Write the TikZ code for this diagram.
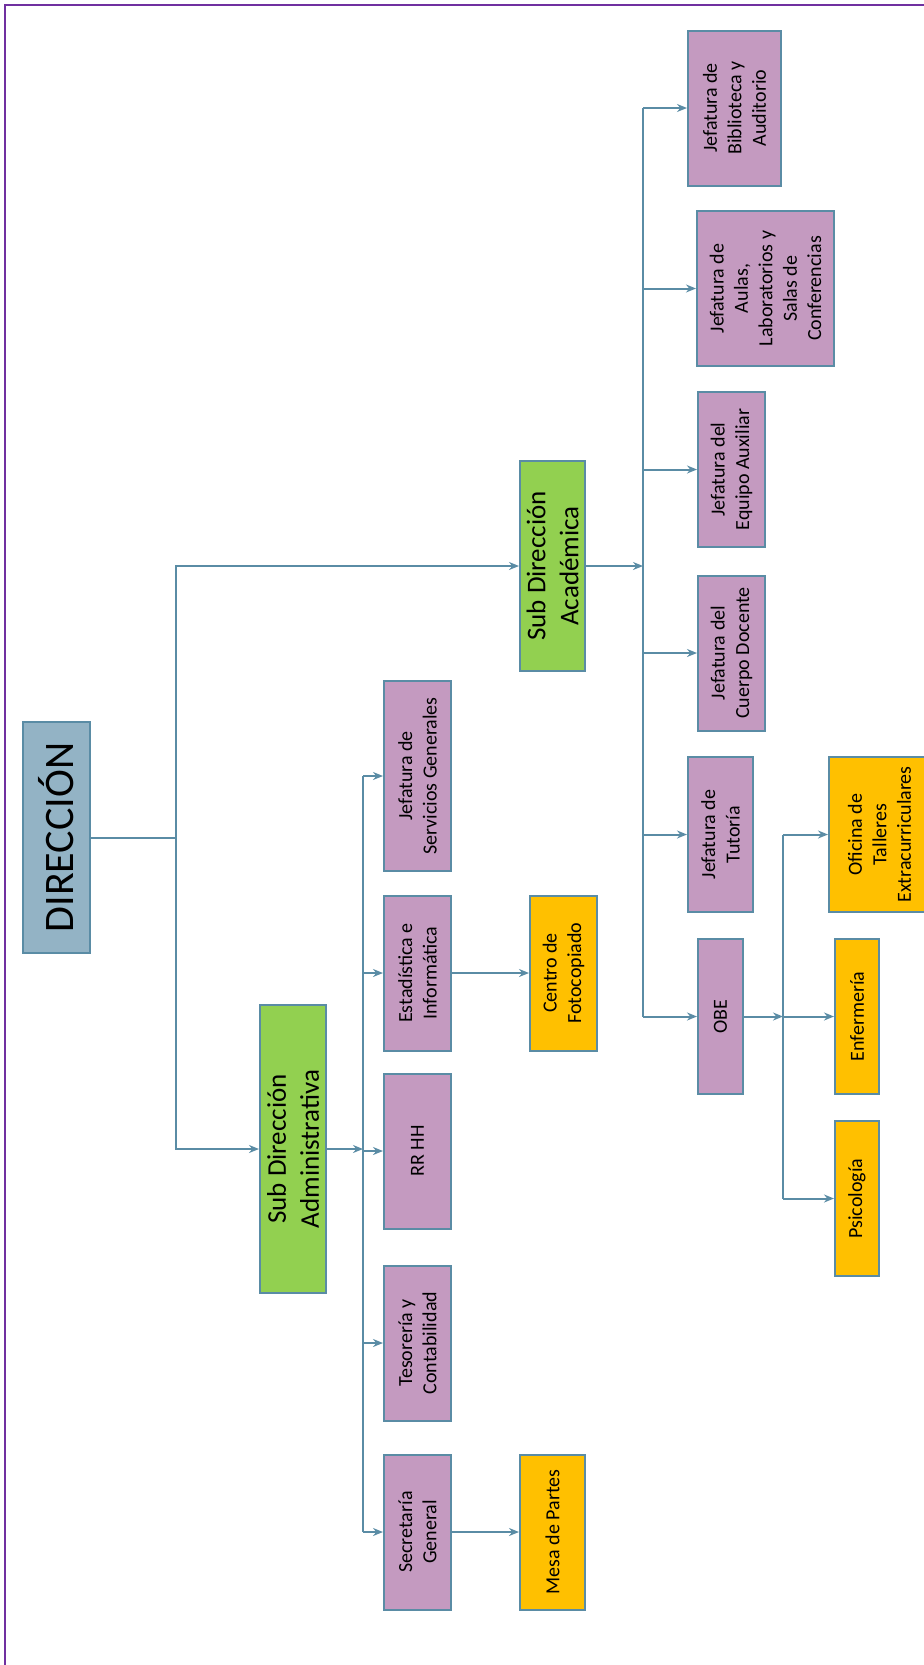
\documentclass[tikz,border=0pt]{standalone}
\usepackage{fontspec}
\setmainfont{Carlito}
\usetikzlibrary{arrows.meta,calc,positioning}

\definecolor{lila}{RGB}{196,154,192}
\definecolor{verde}{RGB}{146,208,80}
\definecolor{naranja}{RGB}{255,192,0}
\definecolor{azulgris}{RGB}{147,179,197}
\definecolor{borde}{RGB}{90,140,165}
\definecolor{morado}{RGB}{112,48,160}

\tikzset{
  caja/.style={draw=borde, line width=1pt, rotate=90, align=center, inner sep=1pt,
    minimum width=77.5pt, minimum height=33.5pt, font=\fontsize{10}{12.2}\selectfont},
  cajalila/.style={caja, fill=lila},
  cajanaranja/.style={caja, fill=naranja},
  cajaverde/.style={caja, fill=verde, font=\fontsize{13.5}{16.5}\selectfont},
  linea/.style={draw=borde, line width=1pt},
  flecha/.style={linea, -{Stealth[length=5pt,width=4pt]}}
}

\begin{document}
\begin{tikzpicture}[x=0.5pt,y=-0.5pt]
  \useasboundingbox (0,0) rectangle (923,1665);
  % Marco
  \draw[morado, line width=1pt] (5,5) rectangle (935,1680);

  % Direccion
  \node[caja, fill=azulgris, minimum width=115.5pt, minimum height=33.5pt,
    font=\fontsize{21}{25}\selectfont] (dir) at (56.5,837.5) {DIRECCIÓN};

  % Sub direcciones
  \node[cajaverde, minimum width=144pt, minimum height=33pt] (subadm) at (293,1149) {Sub Dirección\\Administrativa};
  \node[cajaverde, minimum width=105pt, minimum height=32.5pt] (subacad) at (552.5,566) {Sub Dirección\\Académica};

  % Area administrativa
  \node[cajalila, minimum width=95pt] (serv) at (417.5,776) {Jefatura de\\Servicios Generales};
  \node[cajalila] (est) at (417.5,973) {Estadística e\\Informática};
  \node[cajalila] (rrhh) at (417.5,1151) {RR HH};
  \node[cajalila] (tes) at (417.5,1343) {Tesorería y\\Contabilidad};
  \node[cajalila] (sec) at (417.5,1532) {Secretaría\\General};
  \node[cajanaranja] (foto) at (563.5,973) {Centro de\\Fotocopiado};
  \node[cajanaranja, minimum height=32.5pt] (mesa) at (552.5,1532) {Mesa de Partes};

  % Area academica
  \node[cajalila, minimum height=46.5pt] (bib) at (734.5,108) {Jefatura de\\Biblioteca y\\Auditorio};
  \node[cajalila, minimum height=68.5pt] (aulas) at (765.5,288.5) {Jefatura de\\Aulas,\\Laboratorios y\\Salas de\\Conferencias};
  \node[cajalila] (equipo) at (731.5,469.5) {Jefatura del\\Equipo Auxiliar};
  \node[cajalila] (docente) at (731.5,653) {Jefatura del\\Cuerpo Docente};
  \node[cajalila, minimum height=32.5pt] (tutoria) at (720.5,834.5) {Jefatura de\\Tutoría};
  \node[cajalila, minimum height=22.5pt] (obe) at (720.5,1016.5) {OBE};
  \node[cajanaranja, minimum height=50.5pt] (talleres) at (879.5,834.5) {Oficina de\\Talleres\\Extracurriculares};
  \node[cajanaranja, minimum height=22pt] (enf) at (857,1016.5) {Enfermería};
  \node[cajanaranja, minimum height=22pt] (psi) at (857,1198.5) {Psicología};

  % Troncos
  \coordinate (tdir) at (176,0);
  \coordinate (tadm) at (363,0);
  \coordinate (tacad) at (643,0);
  \coordinate (tobe) at (783,0);

  % Conectores direccion
  \draw[linea] (dir.south) -- (dir.south -| tdir);
  \draw[flecha] (dir.south -| tdir) |- (subacad.north);
  \draw[flecha] (dir.south -| tdir) |- (subadm.north);

  % Conectores administrativos
  \draw[flecha] (subadm.south) -- (subadm.south -| tadm);
  \draw[linea] (serv.north -| tadm) -- (sec.north -| tadm);
  \foreach \n in {serv,est,rrhh,tes,sec}
    \draw[flecha] (\n.north -| tadm) -- (\n.north);
  \draw[flecha] (est.south) -- (foto.north);
  \draw[flecha] (sec.south) -- (mesa.north);

  % Conectores academicos
  \draw[flecha] (subacad.south) -- (subacad.south -| tacad);
  \draw[linea] (bib.north -| tacad) -- (obe.north -| tacad);
  \foreach \n in {bib,aulas,equipo,docente,tutoria,obe}
    \draw[flecha] (\n.north -| tacad) -- (\n.north);

  % Conectores OBE
  \draw[flecha] (obe.south) -- (obe.south -| tobe);
  \draw[linea] (talleres.north -| tobe) -- (psi.north -| tobe);
  \foreach \n in {talleres,enf,psi}
    \draw[flecha] (\n.north -| tobe) -- (\n.north);
\end{tikzpicture}
\end{document}
